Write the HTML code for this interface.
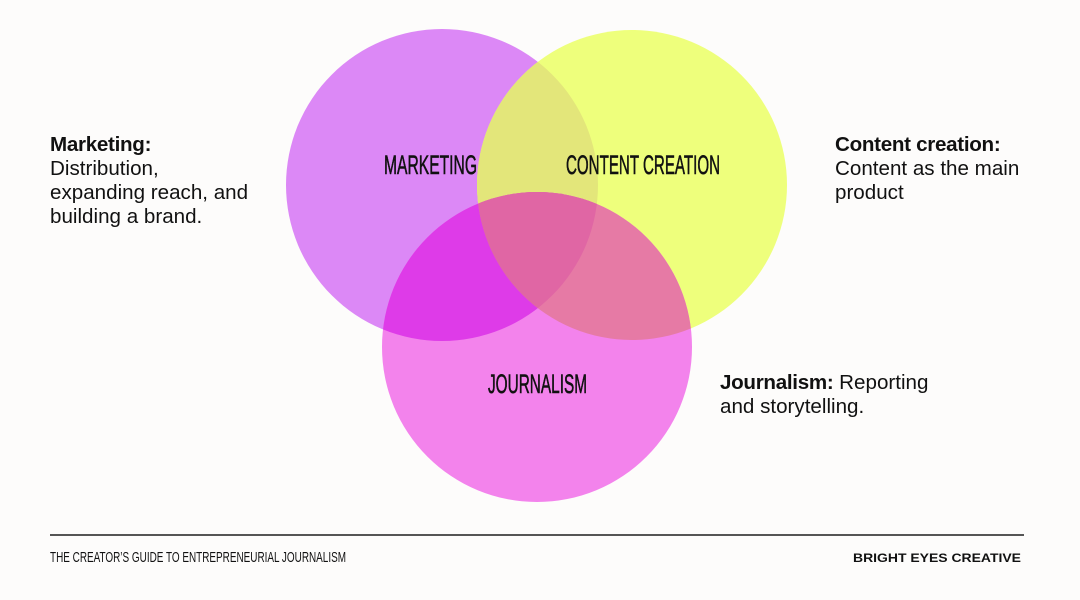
<!DOCTYPE html>
<html><head><meta charset="utf-8"><style>
html,body{margin:0;padding:0;background:#fdfcfb;}
body{width:1080px;height:600px;overflow:hidden;position:relative;font-family:"Liberation Sans",sans-serif;}
.t{position:absolute;font-size:20.6px;line-height:24px;color:#111;letter-spacing:0}
.t b{font-weight:bold;letter-spacing:-0.3px}
</style></head><body>
<svg width="1080" height="600" style="position:absolute;left:0;top:0">
<defs>
<clipPath id="cm"><circle cx="442" cy="185" r="156"/></clipPath>
<clipPath id="cy"><circle cx="632" cy="185" r="155"/></clipPath>
<clipPath id="cj"><circle cx="537" cy="347" r="155"/></clipPath>
</defs>
<circle cx="442" cy="185" r="156" fill="#dc88f6"/>
<circle cx="632" cy="185" r="155" fill="#eeff7c"/>
<circle cx="537" cy="347" r="155" fill="#f383ec"/>
<g clip-path="url(#cm)"><circle cx="632" cy="185" r="155" fill="#e3e67a"/><circle cx="537" cy="347" r="155" fill="#de3be8"/></g>
<g clip-path="url(#cy)"><circle cx="537" cy="347" r="155" fill="#e67aa5"/></g>
<g clip-path="url(#cm)"><g clip-path="url(#cy)"><circle cx="537" cy="347" r="155" fill="#e066a4"/></g></g>
<g font-family="Liberation Sans, sans-serif" fill="#111">
<g stroke="#111" stroke-width="0.6">
<text x="384" y="174" font-size="27" textLength="93" lengthAdjust="spacingAndGlyphs">MARKETING</text>
<text x="566" y="174" font-size="27" textLength="154" lengthAdjust="spacingAndGlyphs">CONTENT CREATION</text>
<text x="488" y="393" font-size="27" textLength="99" lengthAdjust="spacingAndGlyphs">JOURNALISM</text>
</g>
<text x="50" y="562" font-size="15" textLength="296" lengthAdjust="spacingAndGlyphs">THE CREATOR’S GUIDE TO ENTREPRENEURIAL JOURNALISM</text>
<text x="853" y="562" font-size="12" font-weight="bold" textLength="168" lengthAdjust="spacingAndGlyphs">BRIGHT EYES CREATIVE</text>
</g>
<rect x="50" y="534" width="974" height="2" fill="#555"/>
</svg>
<div class="t" style="left:50px;top:133px"><b>Marketing:</b><br>Distribution,<br>expanding reach, and<br>building a brand.</div>
<div class="t" style="left:835px;top:133px"><b>Content creation:</b><br>Content as the main<br>product</div>
<div class="t" style="left:720px;top:371px"><b>Journalism:</b> Reporting<br>and storytelling.</div>
</body></html>
